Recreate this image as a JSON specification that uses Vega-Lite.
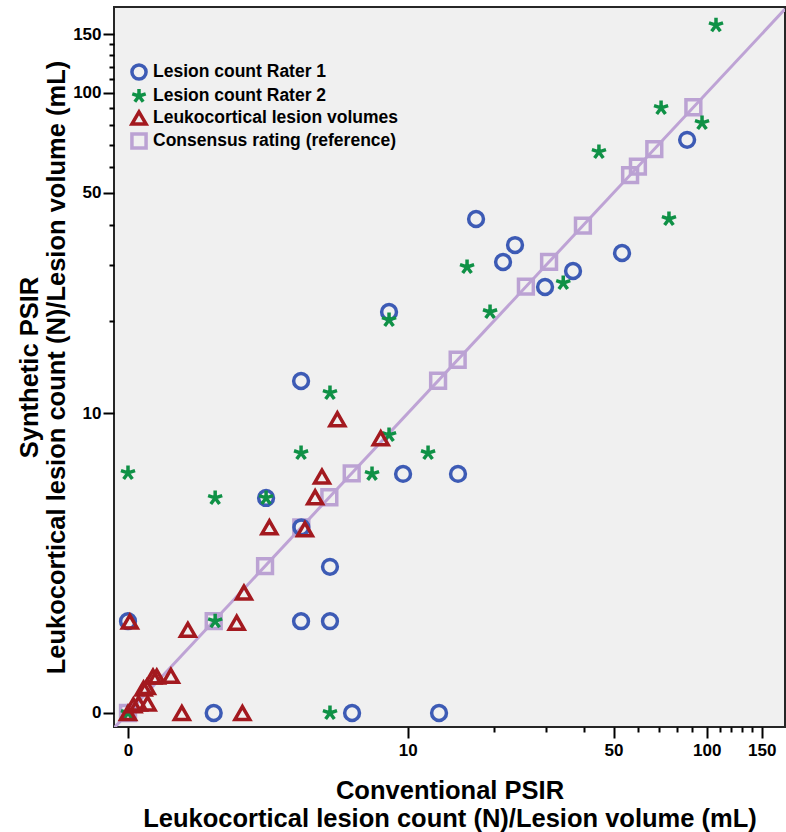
{
  "$schema": "https://vega.github.io/schema/vega-lite/v6.json",
  "width": 671,
  "height": 720,
  "autosize": {"type": "none"},
  "padding": {"left": 114, "top": 7, "right": 1, "bottom": 105},
  "background": "white",
  "config": {
    "view": {"fill": "#f0f0f0", "stroke": "#262626", "strokeWidth": 2},
    "font": "Liberation Sans",
    "axis": {
      "labelFont": "Liberation Sans",
      "labelFontWeight": "bold",
      "labelColor": "black",
      "titleFont": "Liberation Sans",
      "titleFontWeight": "bold",
      "titleColor": "black",
      "tickColor": "black",
      "tickWidth": 2,
      "domain": false,
      "grid": false
    }
  },
  "datasets": {
    "diag": [{"x": -0.161, "y": -0.161}, {"x": 178, "y": 178}],
    "pts": [
      {"series": "Consensus rating (reference)", "x": 0, "y": 0},
      {"series": "Consensus rating (reference)", "x": 1.3, "y": 1.3},
      {"series": "Consensus rating (reference)", "x": 2.57, "y": 2.57},
      {"series": "Consensus rating (reference)", "x": 3.8, "y": 3.8},
      {"series": "Consensus rating (reference)", "x": 5.0, "y": 5.0},
      {"series": "Consensus rating (reference)", "x": 6.15, "y": 6.15},
      {"series": "Consensus rating (reference)", "x": 12.85, "y": 12.85},
      {"series": "Consensus rating (reference)", "x": 15.05, "y": 15.05},
      {"series": "Consensus rating (reference)", "x": 25.7, "y": 25.7},
      {"series": "Consensus rating (reference)", "x": 30.7, "y": 30.7},
      {"series": "Consensus rating (reference)", "x": 39.7, "y": 39.7},
      {"series": "Consensus rating (reference)", "x": 56.6, "y": 56.6},
      {"series": "Consensus rating (reference)", "x": 60, "y": 60},
      {"series": "Consensus rating (reference)", "x": 67.8, "y": 67.8},
      {"series": "Consensus rating (reference)", "x": 90.6, "y": 90.6},
      {"series": "Lesion count Rater 1", "x": 0, "y": 1.3},
      {"series": "Lesion count Rater 1", "x": 1.3, "y": 0},
      {"series": "Lesion count Rater 1", "x": 2.6, "y": 4.97},
      {"series": "Lesion count Rater 1", "x": 3.79, "y": 12.83},
      {"series": "Lesion count Rater 1", "x": 3.79, "y": 1.3},
      {"series": "Lesion count Rater 1", "x": 3.8, "y": 3.8},
      {"series": "Lesion count Rater 1", "x": 5.03, "y": 2.55},
      {"series": "Lesion count Rater 1", "x": 5.03, "y": 1.3},
      {"series": "Lesion count Rater 1", "x": 6.17, "y": 0},
      {"series": "Lesion count Rater 1", "x": 8.54, "y": 21.4},
      {"series": "Lesion count Rater 1", "x": 9.62, "y": 6.12},
      {"series": "Lesion count Rater 1", "x": 12.95, "y": 0},
      {"series": "Lesion count Rater 1", "x": 15.09, "y": 6.12},
      {"series": "Lesion count Rater 1", "x": 17.42, "y": 41.6},
      {"series": "Lesion count Rater 1", "x": 21.53, "y": 30.68},
      {"series": "Lesion count Rater 1", "x": 23.63, "y": 34.6},
      {"series": "Lesion count Rater 1", "x": 29.77, "y": 25.65},
      {"series": "Lesion count Rater 1", "x": 36.84, "y": 28.77},
      {"series": "Lesion count Rater 1", "x": 53.28, "y": 32.7},
      {"series": "Lesion count Rater 1", "x": 86.5, "y": 72.3},
      {"series": "Lesion count Rater 2", "x": 0, "y": 0},
      {"series": "Lesion count Rater 2", "x": 0, "y": 6.17},
      {"series": "Lesion count Rater 2", "x": 1.33, "y": 4.97},
      {"series": "Lesion count Rater 2", "x": 1.33, "y": 1.3},
      {"series": "Lesion count Rater 2", "x": 2.6, "y": 4.97},
      {"series": "Lesion count Rater 2", "x": 3.79, "y": 7.28},
      {"series": "Lesion count Rater 2", "x": 5.03, "y": 11.71},
      {"series": "Lesion count Rater 2", "x": 5.03, "y": 0},
      {"series": "Lesion count Rater 2", "x": 7.37, "y": 6.12},
      {"series": "Lesion count Rater 2", "x": 8.54, "y": 20.2},
      {"series": "Lesion count Rater 2", "x": 8.54, "y": 8.43},
      {"series": "Lesion count Rater 2", "x": 11.84, "y": 7.28},
      {"series": "Lesion count Rater 2", "x": 16.22, "y": 29.6},
      {"series": "Lesion count Rater 2", "x": 19.45, "y": 21.4},
      {"series": "Lesion count Rater 2", "x": 34.2, "y": 26.4},
      {"series": "Lesion count Rater 2", "x": 44.8, "y": 66.5},
      {"series": "Lesion count Rater 2", "x": 71.3, "y": 90.2},
      {"series": "Lesion count Rater 2", "x": 75.6, "y": 41.6},
      {"series": "Lesion count Rater 2", "x": 96.6, "y": 81.3},
      {"series": "Lesion count Rater 2", "x": 107.1, "y": 159.4},
      {"series": "Leukocortical lesion volumes", "x": 0.02, "y": 1.29},
      {"series": "Leukocortical lesion volumes", "x": 1.99, "y": 1.9},
      {"series": "Leukocortical lesion volumes", "x": 0.82, "y": 1.14},
      {"series": "Leukocortical lesion volumes", "x": 1.81, "y": 1.27},
      {"series": "Leukocortical lesion volumes", "x": 0.3, "y": 0.42},
      {"series": "Leukocortical lesion volumes", "x": 0.35, "y": 0.42},
      {"series": "Leukocortical lesion volumes", "x": 0.55, "y": 0.43},
      {"series": "Leukocortical lesion volumes", "x": 0.18, "y": 0.27},
      {"series": "Leukocortical lesion volumes", "x": 0.22, "y": 0.29},
      {"series": "Leukocortical lesion volumes", "x": 0.23, "y": 0.1},
      {"series": "Leukocortical lesion volumes", "x": 0.12, "y": 0.1},
      {"series": "Leukocortical lesion volumes", "x": 0.06, "y": 0.08},
      {"series": "Leukocortical lesion volumes", "x": 0, "y": 0},
      {"series": "Leukocortical lesion volumes", "x": 0.72, "y": 0},
      {"series": "Leukocortical lesion volumes", "x": 1.95, "y": 0},
      {"series": "Leukocortical lesion volumes", "x": 5.39, "y": 9.55},
      {"series": "Leukocortical lesion volumes", "x": 7.95, "y": 8.21},
      {"series": "Leukocortical lesion volumes", "x": 4.66, "y": 5.98},
      {"series": "Leukocortical lesion volumes", "x": 4.36, "y": 5.0},
      {"series": "Leukocortical lesion volumes", "x": 2.7, "y": 3.8},
      {"series": "Leukocortical lesion volumes", "x": 3.94, "y": 3.73}
    ]
  },
  "resolve": {"axis": {"x": "independent", "y": "independent"}},
  "layer": [
    {
      "data": {"name": "diag"},
      "mark": {"type": "line", "color": "#bea3d5", "strokeWidth": 3, "clip": true},
      "encoding": {
        "x": {
          "field": "x", "type": "quantitative",
          "scale": {"type": "symlog", "constant": 1.5, "domain": [-0.161, 178], "nice": false, "zero": false},
          "axis": {"orient": "bottom", "values": [20, 30, 40, 60, 70, 80, 90, 110, 120, 130, 140], "labels": false, "tickSize": 5, "title": null}
        },
        "y": {
          "field": "y", "type": "quantitative",
          "scale": {"type": "symlog", "constant": 1.5, "domain": [-0.15, 180.6], "nice": false, "zero": false},
          "axis": {"orient": "left", "values": [20, 30, 40, 60, 70, 80, 90, 110, 120, 130, 140], "labels": false, "tickSize": 5, "title": null}
        }
      }
    },
    {
      "data": {"name": "pts"},
      "mark": {"type": "point", "filled": false, "strokeWidth": 3.5, "opacity": 1, "size": 220},
      "encoding": {
        "x": {
          "field": "x", "type": "quantitative",
          "axis": {
            "orient": "bottom", "values": [0, 10, 50, 100, 150], "format": "d",
            "labelFontSize": 17, "tickSize": 11, "labelPadding": 4,
            "title": ["Conventional PSIR", "Leukocortical lesion count (N)/Lesion volume (mL)"],
            "titleFontSize": 25.5, "titleLineHeight": 28, "titlePadding": 20
          }
        },
        "y": {
          "field": "y", "type": "quantitative",
          "axis": {
            "orient": "left", "values": [0, 10, 50, 100, 150], "format": "d",
            "labelFontSize": 17, "tickSize": 11, "labelPadding": 2,
            "title": ["Synthetic PSIR", "Leukocortical lesion count (N)/Lesion volume (mL)"],
            "titleFontSize": 25.5, "titleLineHeight": 27, "titlePadding": 3
          }
        },
        "color": {
          "field": "series", "type": "nominal",
          "scale": {
            "domain": ["Lesion count Rater 1", "Lesion count Rater 2", "Leukocortical lesion volumes", "Consensus rating (reference)"],
            "range": ["#3d5bb5", "#0f9146", "#a3191f", "#bba2d3"]
          },
          "legend": {
            "orient": "none", "legendX": 16, "legendY": 56, "title": null,
            "labelFont": "Liberation Sans", "labelFontWeight": "bold", "labelFontSize": 17.5, "labelColor": "black",
            "labelLimit": 0,
            "symbolStrokeWidth": 3.5, "symbolSize": 200, "rowPadding": -10, "labelOffset": 5, "padding": 0
          }
        },
        "shape": {
          "field": "series", "type": "nominal",
          "scale": {
            "domain": ["Lesion count Rater 1", "Lesion count Rater 2", "Leukocortical lesion volumes", "Consensus rating (reference)"],
            "range": ["circle", "M0,-1L0,0M0.95,-0.31L0,0M0.59,0.81L0,0M-0.59,0.81L0,0M-0.95,-0.31L0,0", "triangle-up", "square"]
          }
        }
      }
    }
  ]
}
